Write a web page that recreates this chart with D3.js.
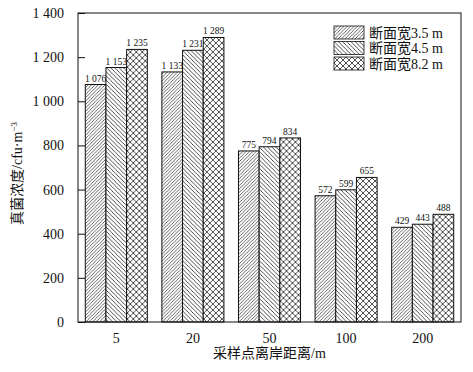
<!DOCTYPE html>
<html>
<head>
<meta charset="utf-8">
<script src="https://cdn.jsdelivr.net/npm/d3@7"></script>
<style>
body { margin: 0; background: #fff; }
svg text { font-family: "Liberation Serif", "Noto Sans CJK SC", serif; fill: #111; }
</style>
</head>
<body>
<div id="chart"></div>
<script>
// distances (m) and the three section widths
const distances = ["5", "20", "50", "100", "200"];
const seriesNames = ["断面宽3.5 m", "断面宽4.5 m", "断面宽8.2 m"];
const width35 = [1076, 1133, 775, 572, 429];
const width45 = [1153, 1231, 794, 599, 443];
const width82 = [1235, 1289, 834, 655, 488];
const yTicks = [0, 200, 400, 600, 800, 1000, 1200, 1400];

const W = 473, H = 372;
const margin = {top: 13, right: 12, bottom: 50, left: 78};
const iw = W - margin.left - margin.right,
      ih = H - margin.top - margin.bottom;

const svg = d3.select("#chart").append("svg")
    .attr("width", W).attr("height", H);

// hatch patterns
const defs = svg.append("defs");
function hatch(id, size, paths, sw) {
    const p = defs.append("pattern")
        .attr("id", id)
        .attr("patternUnits", "userSpaceOnUse")
        .attr("width", size).attr("height", size);
    p.append("rect").attr("width", size).attr("height", size).attr("fill", "#fff");
    paths.forEach(d => p.append("path").attr("d", d)
        .attr("stroke", "#222").attr("stroke-width", sw).attr("fill", "none"));
}
hatch("h1", 3.4, ["M-1,1 L1,-1 M0,3.4 L3.4,0 M2.4,4.4 L4.4,2.4"], 0.7);
hatch("h2", 4.2, ["M-1,3.2 L1,5.2 M0,0 L4.2,4.2 M3.2,-1 L5.2,1"], 0.8);
hatch("h3", 6, ["M0,0 L6,6 M-1,5 L1,7 M5,-1 L7,1", "M0,6 L6,0 M-1,1 L1,-1 M5,7 L7,5"], 0.8);
const fills = ["url(#h1)", "url(#h2)", "url(#h3)"];

const g = svg.append("g").attr("transform", `translate(${margin.left},${margin.top})`);

const x0 = d3.scaleBand().domain(distances).range([0, iw])
    .paddingInner(0.19).paddingOuter(0.095);
const x1 = d3.scaleBand().domain([0, 1, 2]).range([0, x0.bandwidth()]);
const y = d3.scaleLinear().domain([0, 1400]).range([ih, 0]);

const fmt = d3.formatLocale({decimal: ".", thousands: " ", grouping: [3], currency: ["", ""]}).format(",d");

const series = [width35, width45, width82];

// bars
const groups = g.selectAll(".grp").data(distances).enter().append("g")
    .attr("transform", d => `translate(${x0(d)},0)`);
groups.selectAll("rect")
    .data((d, i) => series.map((s, k) => ({k: k, v: s[i]})))
    .enter().append("rect")
    .attr("x", d => x1(d.k))
    .attr("y", d => y(d.v))
    .attr("width", x1.bandwidth())
    .attr("height", d => ih - y(d.v))
    .attr("fill", d => fills[d.k])
    .attr("stroke", "#111")
    .attr("stroke-width", 1);
groups.selectAll(".val")
    .data((d, i) => series.map((s, k) => ({k: k, v: s[i]})))
    .enter().append("text")
    .attr("x", d => x1(d.k) + x1.bandwidth() / 2)
    .attr("y", d => y(d.v) - 3)
    .attr("text-anchor", "middle")
    .attr("font-size", 9.5)
    .text(d => fmt(d.v));

// frame
g.append("rect").attr("width", iw).attr("height", ih)
    .attr("fill", "none").attr("stroke", "#111").attr("stroke-width", 1);

// y axis with inward ticks
const yAxis = g.append("g")
    .call(d3.axisLeft(y).tickValues(yTicks).tickSize(-7).tickPadding(14).tickFormat(fmt));
yAxis.select(".domain").remove();
yAxis.selectAll("text").attr("font-size", 14).style("font-family", "Liberation Serif");
yAxis.selectAll("line").attr("stroke", "#111");

// x axis
const xAxis = g.append("g").attr("transform", `translate(0,${ih})`)
    .call(d3.axisBottom(x0).tickSize(0).tickPadding(11));
xAxis.select(".domain").remove();
xAxis.selectAll("text").attr("font-size", 14).style("font-family", "Liberation Serif");

// axis titles
svg.append("text")
    .attr("x", margin.left + iw / 2).attr("y", 358)
    .attr("text-anchor", "middle").attr("font-size", 14)
    .text("采样点离岸距离/m");

const yt = svg.append("text")
    .attr("transform", `translate(22,${margin.top + ih / 2 + 6}) rotate(-90)`)
    .attr("text-anchor", "middle").attr("font-size", 14);
yt.append("tspan").text("真菌浓度/cfu·m");
yt.append("tspan").attr("dy", -5).attr("font-size", 9).text("−3");

// legend
const lg = svg.append("g").attr("transform", "translate(334,26)");
seriesNames.forEach((name, k) => {
    const row = lg.append("g").attr("transform", `translate(0,${k * 15.5})`);
    row.append("rect").attr("width", 30).attr("height", 13)
        .attr("fill", fills[k]).attr("stroke", "#111").attr("stroke-width", 0.8);
    row.append("text").attr("x", 35).attr("y", 11.5)
        .attr("font-size", 14).text(name);
});
</script>
</body>
</html>
